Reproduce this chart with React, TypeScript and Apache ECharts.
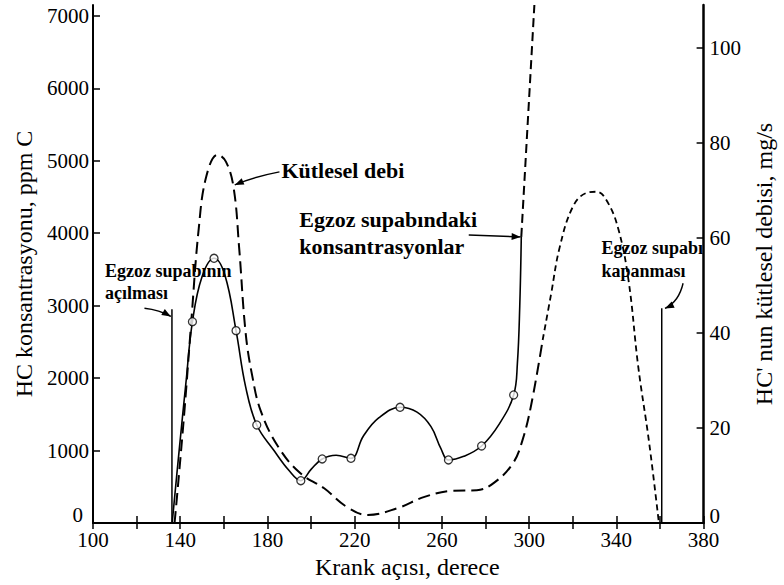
import React, { useEffect, useRef } from "react";
import * as echarts from "echarts";

// Crank angle (deg) vs. HC concentration at the exhaust valve (ppm C)
const concPath: [number, number][] = [
  [136.3, 0], [139.5, 1000], [142.6, 1930], [145.6, 2779], [150, 3400], [155.5, 3654],
  [160.5, 3420], [165.6, 2655], [170, 1880], [175.1, 1353], [183, 1000], [190, 720],
  [195.3, 584], [200, 740], [205.1, 884], [211.5, 935], [218.3, 893], [224, 1200],
  [231, 1450], [240.8, 1597], [248.6, 1530], [255, 1330], [259.5, 1030], [263, 870],
  [270, 920], [278.2, 1063], [286.5, 1376], [292.9, 1767], [294.6, 2200], [295.7, 3000],
  [296.4, 3950],
];
// Measured points (open circles)
const concMarkers: [number, number][] = [
  [145.6, 2779], [155.5, 3654], [165.6, 2655], [175.1, 1353], [195.3, 584], [205.1, 884],
  [218.3, 893], [240.8, 1597], [263, 870], [278.2, 1063], [292.9, 1767],
];
// Concentration continuing above the plotted range (dashed)
const concExtension: [number, number][] = [[296.4, 3950], [302.4, 7150]];

// HC mass flow rate (mg/s): first part (long dashes) and second hump (short dashes)
const massFlowA: [number, number][] = [
  [137.4, 0], [139, 8], [142, 24], [145, 42], [148.5, 62], [152, 73], [157.2, 77.5],
  [161, 76], [164.5, 70.5], [167, 58], [170, 40], [173, 31], [177, 23.5], [185, 16],
  [195, 10.5], [206, 7.3], [216, 3.5], [226, 1.7], [239.5, 3.1], [252, 5.5], [265, 6.8],
  [276, 6.9], [284, 8.5], [292.6, 12.6], [297, 17.5], [301, 25], [306.2, 38.5],
];
const massFlowB: [number, number][] = [
  [306.2, 38.5], [310, 48], [314, 58], [320, 66.5], [326, 69.4], [331, 69.7], [336, 67.5],
  [341, 61.7], [345.6, 51], [350, 33], [355, 17], [359.5, 0],
];

// Exhaust valve opening / closing markers (ppm C scale)
const valveOpen: [number, number][] = [[136.2, 0], [136.2, 2950]];
const valveClose: [number, number][] = [[360.8, 0], [360.8, 2964]];

const xTicks = { min: 100, max: 380, step: 20, labelStep: 40 };
const concTicks = { min: 0, max: 7150, step: 1000 };
const massTicks = { min: 0, max: 109, step: 20 };

// Callouts, placed in (crank angle, ppm C) coordinates
type Callout = {
  text: string;
  at: [number, number];
  size: number;
  lineHeight: number;
  path: [number, number][]; // start, control, tip
};
const callouts: Callout[] = [
  { text: "Kütlesel debi", at: [186.4, 4860], size: 22, lineHeight: 26,
    path: [[185.5, 4846], [173.6, 4777], [165, 4667]] },
  { text: "Egzoz supabındaki\nkonsantrasyonlar", at: [194.6, 4004], size: 22, lineHeight: 27,
    path: [[272.3, 3976], [285, 3962], [296.1, 3949]] },
  { text: "Egzoz supabının\naçılması", at: [105.5, 3320], size: 18, lineHeight: 22,
    path: [[123.6, 2964], [130.5, 2941], [135.7, 2851]] },
  { text: "Egzoz supabı\nkapanması", at: [333.2, 3631], size: 18, lineHeight: 23,
    path: [[370.6, 3309], [368.6, 3051], [362.3, 2962]] },
];

const FONT = "'Liberation Serif', 'DejaVu Serif', 'Times New Roman', Times, serif";

function arrowHead(tip: number[], from: number[], size = 9, half = 3.5) {
  const dx = tip[0] - from[0];
  const dy = tip[1] - from[1];
  const len = Math.hypot(dx, dy) || 1;
  const ux = dx / len;
  const uy = dy / len;
  const bx = tip[0] - ux * size;
  const by = tip[1] - uy * size;
  return {
    type: "polygon",
    shape: { points: [[tip[0], tip[1]], [bx - uy * half, by + ux * half], [bx + uy * half, by - ux * half]] },
    style: { fill: "#000" },
    z: 20,
  };
}

export default function App() {
  const ref = useRef<HTMLDivElement>(null);

  useEffect(() => {
    document.body.style.margin = "0";
    // serif face for every text of the chart
    const css = document.createElement("style");
    css.textContent = `.hc-chart svg text { font-family: ${FONT} !important; }`;
    document.head.appendChild(css);
    if (!ref.current) return;
    const chart = echarts.init(ref.current, undefined, { renderer: "svg" });

    const axisLine = { show: true, lineStyle: { color: "#000", width: 2 } };
    const tickStyle = { color: "#000", width: 1.5 };
    const labelStyle = { color: "#000", fontFamily: FONT, fontSize: 21 };
    const nameStyle = { color: "#000", fontFamily: FONT, fontSize: 24 };
    // the zero labels sit a little above the baseline
    const zeroLeft = { z: { fontFamily: FONT, fontSize: 21, color: "#000", padding: [0, 6, 16, 0] } };
    const zeroRight = { z: { fontFamily: FONT, fontSize: 21, color: "#000", padding: [0, 0, 14, 0] } };

    const option: any = {
      animation: false,
      backgroundColor: "#fff",
      textStyle: { fontFamily: FONT },
      grid: { left: 93, top: 5, width: 616, height: 518, containLabel: false },
      xAxis: [
        {
          type: "value", position: "bottom",
          min: xTicks.min, max: xTicks.max, interval: xTicks.step,
          axisLine, splitLine: { show: false },
          axisTick: { inside: true, length: 7, lineStyle: tickStyle },
          axisLabel: {
            ...labelStyle, margin: 6,
            formatter: (v: number) => ((v - xTicks.min) % xTicks.labelStep === 0 ? String(v) : ""),
          },
          name: "Krank açısı, derece", nameLocation: "middle", nameGap: 31,
          nameTextStyle: { ...nameStyle, padding: [0, 0, 0, 18] },
        },
        {
          type: "value", position: "top",
          min: xTicks.min, max: xTicks.max, interval: xTicks.step,
          axisLine: { show: true, lineStyle: { color: "#000", width: 1.5 } },
          splitLine: { show: false },
          axisTick: { inside: true, length: 6, lineStyle: tickStyle },
          axisLabel: { show: false },
        },
      ],
      yAxis: [
        {
          type: "value", position: "left",
          min: concTicks.min, max: concTicks.max, interval: concTicks.step,
          axisLine, splitLine: { show: false },
          axisTick: { inside: true, length: 7, lineStyle: tickStyle },
          axisLabel: {
            ...labelStyle, margin: 4, showMaxLabel: false, rich: zeroLeft,
            formatter: (v: number) =>
              v === 0 ? "{z|0}" : v % concTicks.step === 0 ? String(v) : "",
          },
          name: "HC konsantrasyonu, ppm C", nameLocation: "middle", nameGap: 52,
          nameTextStyle: nameStyle,
        },
        {
          type: "value", position: "right",
          min: massTicks.min, max: massTicks.max, interval: massTicks.step,
          axisLine: { show: true, lineStyle: { color: "#000", width: 2.5 } },
          splitLine: { show: false },
          axisTick: { inside: true, length: 7, lineStyle: tickStyle },
          axisLabel: {
            ...labelStyle, margin: 6, showMaxLabel: false, rich: zeroRight,
            formatter: (v: number) =>
              v === 0 ? "{z|0}" : v % massTicks.step === 0 ? String(v) : "",
          },
          name: "HC' nun kütlesel debisi, mg/s", nameLocation: "middle", nameGap: 46,
          nameTextStyle: nameStyle,
        },
      ],
      series: [
        {
          name: "Egzoz supabındaki konsantrasyonlar", type: "line", yAxisIndex: 0,
          data: concPath, smooth: 0.4, showSymbol: false,
          lineStyle: { color: "#000", width: 1.6 }, z: 5,
        },
        {
          type: "scatter", yAxisIndex: 0, data: concMarkers, symbol: "circle", symbolSize: 8,
          itemStyle: { color: "#fff", borderColor: "#000", borderWidth: 1.3 }, z: 10,
        },
        {
          type: "line", yAxisIndex: 0, data: concExtension, showSymbol: false,
          lineStyle: { color: "#000", width: 2, type: [9, 5] },
        },
        {
          name: "Kütlesel debi", type: "line", yAxisIndex: 1,
          data: massFlowA, smooth: 0.4, showSymbol: false,
          lineStyle: { color: "#000", width: 2, type: [12, 6] },
        },
        {
          type: "line", yAxisIndex: 1, data: massFlowB, smooth: 0.4, showSymbol: false,
          lineStyle: { color: "#000", width: 1.8, type: [6, 4] },
        },
        {
          type: "line", yAxisIndex: 0, data: valveOpen, showSymbol: false,
          lineStyle: { color: "#000", width: 1.5 },
        },
        {
          type: "line", yAxisIndex: 0, data: valveClose, showSymbol: false,
          lineStyle: { color: "#000", width: 1.5 },
        },
      ],
    };
    chart.setOption(option);

    // Callout texts and arrows, positioned through the ppm C / crank angle scales
    const toPx = (p: number[]) => chart.convertToPixel({ seriesIndex: 0 }, p) as number[];
    const graphics: any[] = [];
    callouts.forEach((c) => {
      const t = toPx(c.at);
      graphics.push({
        type: "text", x: t[0], y: t[1], z: 15,
        style: {
          text: c.text, fill: "#000", fontFamily: FONT, fontWeight: "bold",
          fontSize: c.size, lineHeight: c.lineHeight, align: "left", verticalAlign: "middle",
        },
      });
      const [s, cp, tip] = c.path.map(toPx);
      graphics.push({
        type: "bezierCurve", z: 15,
        shape: { x1: s[0], y1: s[1], cpx1: cp[0], cpy1: cp[1], x2: tip[0], y2: tip[1] },
        style: { stroke: "#000", lineWidth: 1.4, fill: "none" },
      });
      graphics.push(arrowHead(tip, cp));
    });
    chart.setOption({ graphic: graphics });

    return () => {
      chart.dispose();
      css.remove();
    };
  }, []);

  return <div ref={ref} className="hc-chart" style={{ width: 784, height: 585 }} />;
}
